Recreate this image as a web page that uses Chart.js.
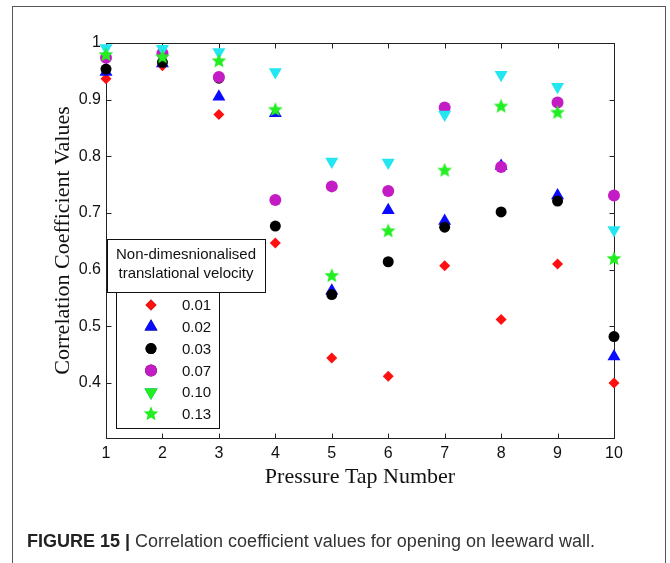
<!DOCTYPE html>
<html>
<head>
<meta charset="utf-8">
<title>Figure 15 - Correlation coefficient values</title>
<script src="https://cdn.jsdelivr.net/npm/chart.js@4.4.1/dist/chart.umd.min.js"></script>
<style>
  body { margin: 0; background: #fff; }
  #wrap { position: relative; width: 670px; height: 563px; }
  #caption {
    position: absolute; left: 27px; top: 531px;
    font: 18px "Liberation Sans", Arial, sans-serif; color: #333; white-space: nowrap;
  }
  #caption b { color: #222; }
</style>
</head>
<body>
<div id="wrap">
  <canvas id="corrChart" width="670" height="563"></canvas>
  <div id="caption"><b>FIGURE 15 |</b> Correlation coefficient values for opening on leeward wall.</div>
</div>
<script>
// Pressure tap numbers and correlation values, one array per velocity
const taps = [1, 2, 3, 4, 5, 6, 7, 8, 9, 10];
const v001 = [0.937, 0.960, 0.874, 0.647, 0.444, 0.412, 0.607, 0.512, 0.610, 0.400];
const v002 = [0.949, 0.964, 0.905, 0.876, 0.563, 0.705, 0.686, 0.783, 0.731, 0.447];
const v003 = [0.954, 0.966, 0.938, 0.677, 0.556, 0.614, 0.675, 0.702, 0.721, 0.482];
const v007 = [0.974, 0.982, 0.940, 0.723, 0.747, 0.739, 0.886, 0.781, 0.895, 0.731];
const v010 = [0.991, 0.990, 0.984, 0.949, 0.791, 0.789, 0.874, 0.944, 0.923, 0.670];
const v013 = [0.979, 0.975, 0.968, 0.882, 0.589, 0.668, 0.775, 0.888, 0.877, 0.619];

const seriesLabels = ['0.01', '0.02', '0.03', '0.07', '0.10', '0.13'];
const yTicks = [0.4, 0.5, 0.6, 0.7, 0.8, 0.9, 1.0];

// filled five point star for the 0.13 series
function makeStar(size, color) {
  const c = document.createElement('canvas');
  c.width = c.height = size;
  const g = c.getContext('2d');
  const cx = size / 2, R = size / 2 - 0.3, r = R * 0.45;
  g.beginPath();
  for (let i = 0; i < 10; i++) {
    const a = -Math.PI / 2 + i * Math.PI / 5;
    const rr = i % 2 ? r : R;
    g.lineTo(cx + rr * Math.cos(a), cx + rr * Math.sin(a));
  }
  g.closePath();
  g.fillStyle = color;
  g.fill();
  return c;
}
const star = makeStar(16, '#22ee22');

const styles = [
  { color: '#ff1010', pointStyle: 'rectRot', radius: 5.5, rotation: 0 },
  { color: '#0a0aff', pointStyle: 'triangle', radius: 7.5, rotation: 0 },
  { color: '#000000', pointStyle: 'circle', radius: 5.5, rotation: 0 },
  { color: '#c41cc4', pointStyle: 'circle', radius: 6, rotation: 0 },
  { color: '#22e6f0', pointStyle: 'triangle', radius: 7.5, rotation: 180 },
  { color: '#22ee22', pointStyle: star, radius: 8, rotation: 0 },
];
const values = [v001, v002, v003, v007, v010, v013];

const datasets = values.map((vals, i) => ({
  label: seriesLabels[i],
  data: taps.map((t, j) => ({ x: t, y: vals[j] })),
  showLine: false,
  pointStyle: styles[i].pointStyle,
  pointRadius: styles[i].radius,
  pointRotation: styles[i].rotation,
  backgroundColor: styles[i].color,
  borderColor: styles[i].color,
  borderWidth: 0,
  clip: false,
  order: 6 - i, // later series painted on top, like matlab
}));

// white page + grey figure frame
const framePlugin = {
  id: 'frame',
  beforeDraw(chart) {
    const ctx = chart.ctx;
    ctx.save();
    ctx.fillStyle = '#fff';
    ctx.fillRect(0, 0, chart.width, chart.height);
    ctx.strokeStyle = '#555';
    ctx.lineWidth = 1;
    ctx.strokeRect(12.5, 6.5, 653, 600);
    ctx.restore();
  }
};

// box around the plot with inward ticks on all four sides
const boxPlugin = {
  id: 'box',
  beforeDatasetsDraw(chart) {
    const { ctx, chartArea: a, scales } = chart;
    const L = Math.round(a.left) + 0.5, R = Math.round(a.right) + 0.5;
    const T = Math.round(a.top) + 0.5, B = Math.round(a.bottom) + 0.5;
    ctx.save();
    ctx.strokeStyle = '#222';
    ctx.lineWidth = 1;
    ctx.strokeRect(L, T, R - L, B - T);
    ctx.beginPath();
    scales.x.ticks.forEach(t => {
      const x = Math.round(scales.x.getPixelForValue(t.value)) + 0.5;
      ctx.moveTo(x, B); ctx.lineTo(x, B - 5);
      ctx.moveTo(x, T); ctx.lineTo(x, T + 5);
    });
    scales.y.ticks.forEach(t => {
      const y = Math.round(scales.y.getPixelForValue(t.value)) + 0.5;
      ctx.moveTo(L, y); ctx.lineTo(L + 5, y);
      ctx.moveTo(R, y); ctx.lineTo(R - 5, y);
    });
    ctx.stroke();
    ctx.restore();
  }
};

// matlab style legend with a title box on top
const legendPlugin = {
  id: 'matLegend',
  afterDatasetsDraw(chart) {
    const ctx = chart.ctx;
    ctx.save();
    ctx.lineWidth = 1;
    ctx.strokeStyle = '#111';
    ctx.fillStyle = '#fff';
    ctx.fillRect(116.5, 280.5, 103, 148);
    ctx.strokeRect(116.5, 280.5, 103, 148);
    ctx.fillRect(107.5, 239.5, 158, 53);
    ctx.strokeRect(107.5, 239.5, 158, 53);
    ctx.fillStyle = '#111';
    ctx.font = '15px "Liberation Sans", Arial, sans-serif';
    ctx.textAlign = 'center';
    ctx.textBaseline = 'middle';
    ctx.fillText('Non-dimesnionalised', 186, 255);
    ctx.fillText('translational velocity', 186, 274);
    ctx.textAlign = 'left';
    chart.data.datasets.forEach((ds, i) => {
      const y = 305 + i * 21.8;
      Chart.helpers.drawPoint(ctx, {
        pointStyle: ds.pointStyle,
        radius: ds.pointRadius,
        rotation: ds.pointRotation,
        borderWidth: 0,
      }, 151, y);
      ctx.fillStyle = ds.backgroundColor;
      ctx.fill();
      ctx.fillStyle = '#111';
      ctx.fillText(ds.label, 182, y + 1);
    });
    ctx.restore();
  }
};

new Chart(document.getElementById('corrChart'), {
  type: 'scatter',
  data: { datasets },
  options: {
    responsive: false,
    animation: false,
    layout: { padding: { left: 50, right: 56, top: 43, bottom: 73 } },
    scales: {
      x: {
        type: 'linear',
        min: 1,
        max: 10,
        afterFit: s => { s.height = 52; },
        grid: { display: false, drawTicks: false },
        border: { display: false },
        ticks: {
          stepSize: 1,
          padding: 6,
          color: '#111',
          font: { family: '"Liberation Sans", Arial, sans-serif', size: 16 },
        },
        title: {
          display: true,
          text: 'Pressure Tap Number',
          color: '#111',
          padding: 0,
          font: { family: '"Liberation Serif", "Times New Roman", serif', size: 22 },
        },
      },
      y: {
        min: 0.303,
        max: 1,
        afterFit: s => { s.width = 56; },
        afterBuildTicks: s => { s.ticks = yTicks.map(v => ({ value: v })); },
        grid: { display: false, drawTicks: false },
        border: { display: false },
        ticks: {
          padding: 5,
          color: '#111',
          font: { family: '"Liberation Sans", Arial, sans-serif', size: 16 },
          callback: v => (v >= 0.999 ? '1' : v.toFixed(1)),
        },
        title: {
          display: true,
          text: 'Correlation Coefficient Values',
          color: '#111',
          padding: 0,
          font: { family: '"Liberation Serif", "Times New Roman", serif', size: 22 },
        },
      },
    },
    plugins: {
      legend: { display: false },
      tooltip: { enabled: false },
    },
  },
  plugins: [framePlugin, boxPlugin, legendPlugin],
});
</script>
</body>
</html>
